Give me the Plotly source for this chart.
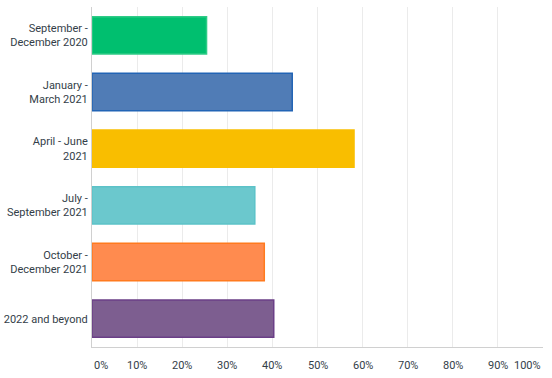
import plotly.graph_objects as go

categories = ["September -<br>December 2020", "January -<br>March 2021", "April - June<br>2021",
              "July -<br>September 2021", "October -<br>December 2021", "2022 and beyond"]
values = [25.4, 44.4, 58.1, 36.1, 38.2, 40.3]
fill_colors = ["#00BF6F", "#507CB6", "#F9BE00", "#6BC8CD", "#FF8B4F", "#7D5E90"]
line_colors = ["#2FCB87", "#2264B5", "#F9BE00", "#5CC2C8", "#FF7A1F", "#6B3F87"]
tick_vals = [0, 10, 20, 30, 40, 50, 60, 70, 80, 90, 100]
tick_text = ["0%", "10%", "20%", "30%", "40%", "50%", "60%", "70%", "80%", "90%", "100%"]

fig = go.Figure(go.Bar(
    x=values, y=categories, orientation="h",
    marker=dict(color=fill_colors, line=dict(color=line_colors, width=1.5)),
    hoverinfo="skip",
))

font_family = "Roboto, 'Open Sans', sans-serif"
annotations = []
for i, (v, t) in enumerate(zip(tick_vals, tick_text)):
    anchor = "left" if i == 0 else ("right" if i == len(tick_vals) - 1 else "center")
    annotations.append(dict(x=v, y=0, xref="x", yref="paper", yanchor="top", xanchor=anchor,
                            yshift=-10, text=t, showarrow=False,
                            font=dict(family=font_family, size=11, color="#333E48")))

fig.update_layout(
    width=552, height=378,
    margin=dict(l=92, r=9, t=7, b=31, autoexpand=False),
    paper_bgcolor="white", plot_bgcolor="white",
    bargap=0.34,
    showlegend=False,
    font=dict(family=font_family, size=11, color="#333E48"),
    annotations=annotations,
    xaxis=dict(range=[0, 100], tickvals=tick_vals, showticklabels=False,
               showgrid=True, gridcolor="#EBEBEB", gridwidth=1,
               showline=True, linecolor="#D0D0D0", linewidth=1,
               zeroline=False, fixedrange=True, automargin=False),
    yaxis=dict(autorange="reversed", showgrid=False, showline=True,
               linecolor="#D0D0D0", linewidth=1, ticks="", ticklabelstandoff=1,
               tickfont=dict(family=font_family, size=11, color="#333E48"),
               fixedrange=True, automargin=False),
)

fig.write_html("out.html", config={"displayModeBar": False},
               post_script="document.body.style.margin='0';document.body.style.overflow='hidden';")
